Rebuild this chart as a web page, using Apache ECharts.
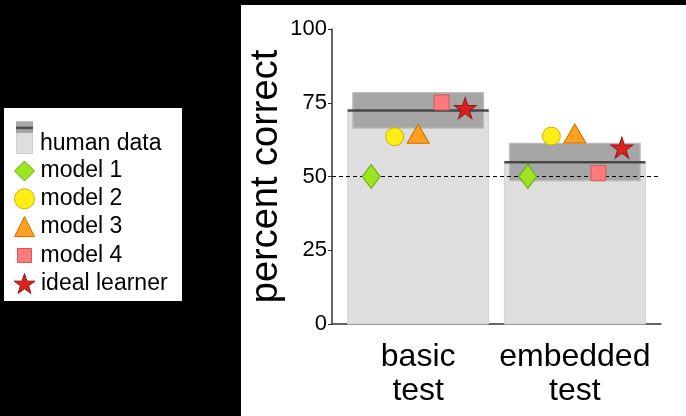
<!DOCTYPE html>
<html>
<head>
<meta charset="utf-8">
<style>
  html, body { margin: 0; padding: 0; background: #000; }
  #chart { width: 686px; height: 416px; }
</style>
<script src="https://cdn.jsdelivr.net/npm/echarts@6/dist/echarts.min.js"></script>
</head>
<body>
<div id="chart"></div>
<script>
// ---- data ----
const categories = ['basic\ntest', 'embedded\ntest'];
const categoryPos = [1, 2];
const humanMean = [72.4, 54.8];
const humanLow = [66.4, 48.6];
const humanHigh = [78.4, 61.2];
const model1 = [50, 50];
const model2 = [63.5, 63.7];
const model3 = [64.5, 64.6];
const model4 = [75.1, 51.1];
const idealLearner = [73.2, 59.8];
const chanceLevel = 50;
const yTicks = [0, 25, 50, 75, 100];

// ---- layout / style ----
const FONT = "'Liberation Sans', Arial, Helvetica, sans-serif";
const modelOffsets = [-0.3, -0.15, 0, 0.15, 0.3];
const BAR_W = 0.9, BAND_W = 0.834;
const starPath = 'path://M50,0 L61.2,34.5 L97.6,34.5 L68.2,55.9 L79.4,90.5 L50,69.1 L20.6,90.5 L31.8,55.9 L2.4,34.5 L38.8,34.5 Z';

// legend icon for the human data: bar with a band and mean line; transparent space below
const humanIconSvg = "<svg xmlns='http://www.w3.org/2000/svg' width='17' height='45' viewBox='0 0 17 45'>" +
  "<rect x='0.5' y='0.5' width='16' height='32' fill='#dedede' stroke='#cfcfcf'/>" +
  "<rect x='0' y='0' width='17' height='12' fill='#a6a6a6'/>" +
  "<rect x='0' y='0' width='17' height='1.2' fill='#bdbdbd'/>" +
  "<rect x='0' y='5.6' width='17' height='2.6' fill='#505050'/>" +
  "</svg>";
const humanIcon = 'image://data:image/svg+xml;charset=utf-8,' + encodeURIComponent(humanIconSvg);

const humanData = categoryPos.map((p, i) => [p, humanMean[i], humanLow[i], humanHigh[i]]);

function modelSeries(name, values, idx, symbol, size, fill, border) {
  return {
    name: name,
    type: 'scatter',
    z: 6,
    symbol: symbol,
    symbolSize: size,
    itemStyle: { color: fill, borderColor: border, borderWidth: 1, opacity: 1 },
    emphasis: { disabled: true },
    data: categoryPos.map((p, i) => [p + modelOffsets[idx], values[i]])
  };
}

const chart = echarts.init(document.getElementById('chart'), null, { renderer: 'canvas' });

const legendBase = {
  orient: 'vertical',
  selectedMode: false,
  padding: 0,
  itemStyle: { borderWidth: 1 }
};
function legendText(pad) {
  return { fontFamily: FONT, fontSize: 23, color: '#000', padding: pad };
}

chart.setOption({
  animation: false,
  backgroundColor: '#000',
  textStyle: { fontFamily: FONT },
  graphic: [
    { type: 'rect', z: -10, silent: true, shape: { x: 241, y: 5, width: 445, height: 411 }, style: { fill: '#fff' } },
    { type: 'rect', z: -10, silent: true, shape: { x: 4, y: 108, width: 178, height: 193 }, style: { fill: '#fff' } }
  ],
  legend: [
    Object.assign({}, legendBase, {
      left: 16, top: 121, itemWidth: 17, itemHeight: 45,
      data: [{ name: 'human data', icon: humanIcon }],
      textStyle: legendText([0, 0, 0, 2])
    }),
    Object.assign({}, legendBase, {
      left: 14, top: 159.5, itemWidth: 20, itemHeight: 20, itemGap: 4.8,
      data: ['model 1', 'model 2', 'model 3'],
      textStyle: legendText([0, 0, 0, 1])
    }),
    Object.assign({}, legendBase, {
      left: 17, top: 244, itemWidth: 14, itemHeight: 14,
      data: ['model 4'],
      textStyle: legendText([0, 0, 0, 4])
    }),
    Object.assign({}, legendBase, {
      left: 13.5, top: 272, itemWidth: 21, itemHeight: 21,
      data: ['ideal learner'],
      textStyle: legendText([0, 0, 0, 1])
    })
  ],
  grid: { left: 332, right: 25, top: 29, bottom: 92, containLabel: false },
  xAxis: {
    type: 'value',
    min: 0.45, max: 2.55,
    splitLine: { show: false },
    axisLine: { show: true, lineStyle: { color: '#333', width: 1.5 } },
    axisTick: { show: false },
    axisLabel: {
      customValues: categoryPos,
      formatter: (v) => categories[categoryPos.indexOf(v)] || '',
      fontFamily: FONT, fontSize: 32, lineHeight: 34, color: '#000', margin: 16
    }
  },
  yAxis: {
    type: 'value',
    min: 0, max: 100, interval: 25,
    name: 'percent correct',
    nameLocation: 'middle',
    nameGap: 46,
    nameTextStyle: { fontFamily: FONT, fontSize: 38, color: '#000' },
    splitLine: { show: false },
    axisLine: { show: true, lineStyle: { color: '#333', width: 1.5 } },
    axisTick: { show: true, length: 4, lineStyle: { color: '#333', width: 1 } },
    axisLabel: {
      fontFamily: FONT, fontSize: 22, color: '#000', margin: 5,
      formatter: (v) => (yTicks.indexOf(v) >= 0 ? String(v) : '')
    }
  },
  series: [
    {
      name: 'human data',
      type: 'custom',
      z: 2,
      data: humanData,
      encode: { x: 0, y: [1, 2, 3] },
      renderItem: function (params, api) {
        const x = api.value(0), mean = api.value(1), lo = api.value(2), hi = api.value(3);
        const barW = api.size([BAR_W, 0])[0];
        const bandW = api.size([BAND_W, 0])[0];
        const base = api.coord([x, 0]);
        const pm = api.coord([x, mean]);
        const pl = api.coord([x, lo]);
        const ph = api.coord([x, hi]);
        return {
          type: 'group',
          children: [
            { type: 'rect', shape: { x: base[0] - barW / 2, y: pm[1], width: barW, height: base[1] - pm[1] },
              style: { fill: '#dedede', stroke: '#d2d2d2', lineWidth: 1 } },
            { type: 'rect', shape: { x: base[0] - bandW / 2, y: ph[1], width: bandW, height: pl[1] - ph[1] },
              style: { fill: '#a6a6a6', stroke: '#bcbcbc', lineWidth: 1.2 } },
            { type: 'line', shape: { x1: base[0] - barW / 2, y1: pm[1], x2: base[0] + barW / 2, y2: pm[1] },
              style: { stroke: '#474747', lineWidth: 2.5 } }
          ]
        };
      },
      markLine: {
        silent: true,
        symbol: ['none', 'none'],
        label: { show: false },
        lineStyle: { color: '#000', type: [4, 3], width: 1.2 },
        data: [{ yAxis: chanceLevel }]
      }
    },
    modelSeries('model 1', model1, 0, 'diamond', [18, 24], '#9be61e', '#6ea31a'),
    modelSeries('model 2', model2, 1, 'circle', 18, '#ffee14', '#c9b400'),
    modelSeries('model 3', model3, 2, 'triangle', [22, 19], '#ffa020', '#cf7000'),
    modelSeries('model 4', model4, 3, 'rect', 15, '#ff7b7b', '#d05a5a'),
    modelSeries('ideal learner', idealLearner, 4, starPath, [22, 21], '#dc2020', '#991515')
  ]
});
</script>
</body>
</html>
